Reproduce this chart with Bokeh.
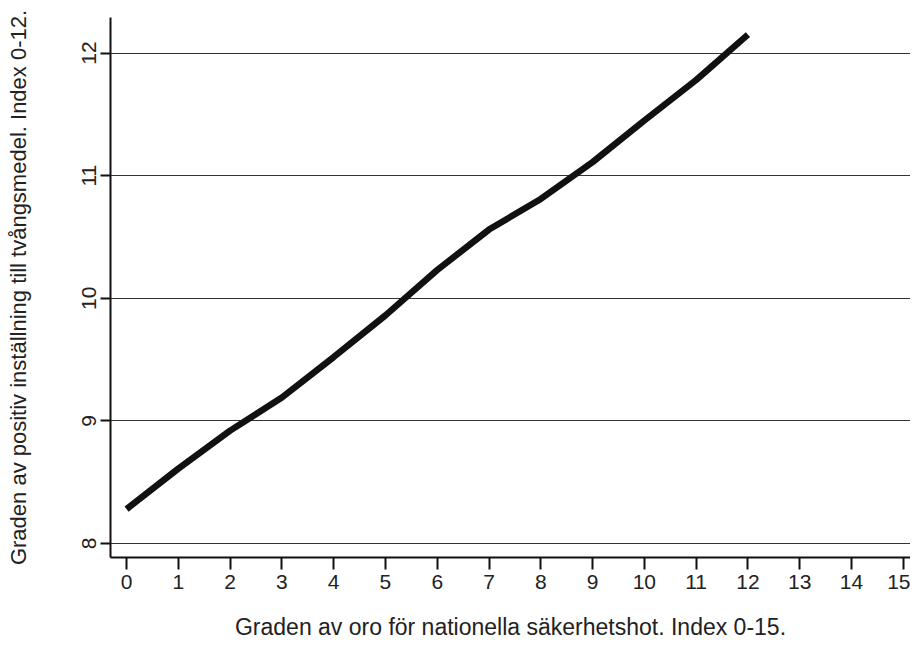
from bokeh.plotting import figure
from bokeh.models import Range1d, FixedTicker
from bokeh.embed import file_html
from bokeh.resources import INLINE

x_vals = [0, 1, 2, 3, 4, 5, 6, 7, 8, 9, 10, 11, 12]
y_vals = [8.28, 8.61, 8.92, 9.19, 9.52, 9.86, 10.23, 10.56, 10.81, 11.11, 11.45, 11.78, 12.15]
x_ticks = list(range(0, 16))
y_ticks = [8, 9, 10, 11, 12]
x_title = "Graden av oro för nationella säkerhetshot. Index 0-15."
y_title = "Graden av positiv inställning till tvångsmedel. Index 0-12."

FONT = "Liberation Sans"
TXT = "#222222"

p = figure(width=910, height=644, output_backend="svg", toolbar_location=None,
           x_range=Range1d(-0.31, 15.14), y_range=Range1d(7.885, 12.29),
           min_border_left=110, min_border_top=17, min_border_right=0, min_border_bottom=87)
p.outline_line_color = None
p.background_fill_color = "white"

p.line(x_vals, y_vals, line_color="#111111", line_width=6.5)

p.xgrid.visible = False
p.ygrid.grid_line_color = "#333333"
p.ygrid.grid_line_width = 1.2
p.ygrid.ticker = FixedTicker(ticks=y_ticks)

xa = p.xaxis[0]
xa.ticker = FixedTicker(ticks=x_ticks)
xa.axis_label = x_title
xa.axis_line_color = "#111111"
xa.axis_line_width = 2
xa.major_tick_line_color = "#111111"
xa.major_tick_line_width = 2
xa.major_tick_out = 12
xa.major_tick_in = 0
xa.minor_tick_line_color = None
xa.major_label_text_font = FONT
xa.major_label_text_font_size = "21px"
xa.major_label_text_color = TXT
xa.major_label_standoff = 5
xa.axis_label_text_font = FONT
xa.axis_label_text_font_style = "normal"
xa.axis_label_text_font_size = "23px"
xa.axis_label_text_color = TXT
xa.axis_label_standoff = 22

ya = p.yaxis[0]
ya.ticker = FixedTicker(ticks=y_ticks)
ya.axis_label = y_title
ya.axis_line_color = "#111111"
ya.axis_line_width = 2
ya.major_tick_line_color = "#111111"
ya.major_tick_line_width = 2
ya.major_tick_out = 10
ya.major_tick_in = 0
ya.minor_tick_line_color = None
ya.major_label_orientation = "vertical"
ya.major_label_text_font = FONT
ya.major_label_text_font_size = "21px"
ya.major_label_text_color = TXT
ya.major_label_standoff = 4
ya.axis_label_text_font = FONT
ya.axis_label_text_font_style = "normal"
ya.axis_label_text_font_size = "22px"
ya.axis_label_text_color = TXT
ya.axis_label_standoff = 49

open("out.html", "w").write(file_html(p, INLINE))
